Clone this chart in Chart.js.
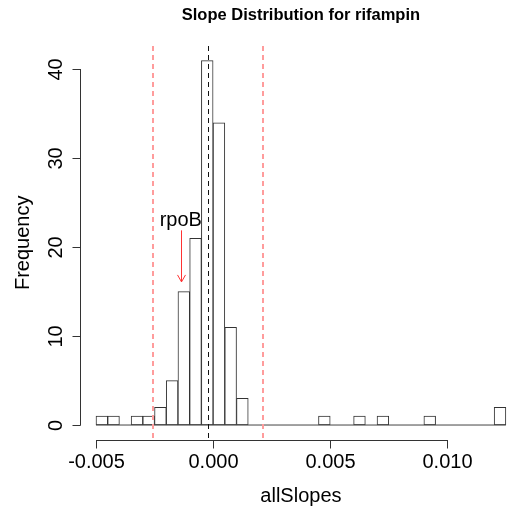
<!DOCTYPE html>
<html>
<head>
<meta charset="utf-8">
<script src="https://cdn.jsdelivr.net/npm/chart.js@4"></script>
<style>
html,body{margin:0;padding:0;background:#fff;overflow:hidden;}
canvas{display:block;}
</style>
</head>
<body>
<canvas id="c" width="509" height="513"></canvas>
<script>
// Histogram bin edges (allSlopes)
const binEdges = [-0.005,-0.0045,-0.004,-0.0035,-0.003,-0.0025,-0.002,-0.0015,-0.001,-0.0005,
  0,0.0005,0.001,0.0015,0.002,0.0025,0.003,0.0035,0.004,0.0045,
  0.005,0.0055,0.006,0.0065,0.007,0.0075,0.008,0.0085,0.009,0.0095,
  0.01,0.0105,0.011,0.0115,0.012,0.0125];
// Frequency per bin
const counts = [1,1,0,1,1,2,5,15,21,41,
  34,11,3,0,0,0,0,0,0,1,
  0,0,1,0,1,0,0,0,1,0,
  0,0,0,0,2];
// Tick labels
const xTicks = [-0.005,0,0.005,0.010];
const xTickLabels = ["-0.005","0.000","0.005","0.010"];
const yTicks = [0,10,20,30,40];
const yTickLabels = ["0","10","20","30","40"];
// Reference lines
const centerLine = -0.000205;
const cutoffLines = [-0.00258,0.00214];
// Annotation
const annotationLabel = "rpoB";
const annotationX = -0.00138;
const annotationTextY = 23.0;
const arrowFromY = 21.9;
const arrowToY = 16.1;
// Axis extents (R-style 4% extension)
const xLimits = [-0.0057,0.0132];
const title = "Slope Distribution for rifampin";
const xLabel = "allSlopes";
const yLabel = "Frequency";

const barData = counts.map((c,i)=>({x:(binEdges[i]+binEdges[i+1])/2, y:c}));
const baseData = [{x:binEdges[0],y:0},{x:binEdges[binEdges.length-1],y:0}];

const FONT = '"Liberation Sans", Arial, Helvetica, sans-serif';

const rPlot = {
  id:'rPlot',
  afterDatasetsDraw(chart){
    const ctx = chart.ctx, xs = chart.scales.x, ys = chart.scales.y, ca = chart.chartArea;
    ctx.save();
    // reference lines
    ctx.lineWidth = 2;
    ctx.setLineDash([5,4]);
    ctx.strokeStyle = '#ff9c9c';
    cutoffLines.forEach(v=>{
      const px = Math.round(xs.getPixelForValue(v));
      ctx.beginPath(); ctx.moveTo(px,ca.top); ctx.lineTo(px,ca.bottom); ctx.stroke();
    });
    ctx.strokeStyle = '#111';
    ctx.lineWidth = 1;
    {
      const px = Math.round(xs.getPixelForValue(centerLine))+0.5;
      ctx.beginPath(); ctx.moveTo(px,ca.top); ctx.lineTo(px,ca.bottom); ctx.stroke();
    }
    ctx.setLineDash([]);

    // annotation arrow
    const ax = Math.round(xs.getPixelForValue(annotationX))+0.5;
    const y0 = ys.getPixelForValue(arrowFromY), y1 = ys.getPixelForValue(arrowToY);
    ctx.strokeStyle = '#ff3333';
    ctx.lineWidth = 1;
    ctx.beginPath(); ctx.moveTo(ax,y0); ctx.lineTo(ax,y1); ctx.stroke();
    ctx.beginPath(); ctx.moveTo(ax-4,y1-7); ctx.lineTo(ax,y1); ctx.lineTo(ax+4,y1-7); ctx.stroke();
    ctx.fillStyle = '#000';
    ctx.font = '20px ' + FONT;
    ctx.textAlign = 'center'; ctx.textBaseline = 'middle';
    ctx.fillText(annotationLabel, xs.getPixelForValue(annotationX), ys.getPixelForValue(annotationTextY));

    // axes
    ctx.strokeStyle = '#333';
    ctx.lineWidth = 1;
    const axY = Math.round(ca.bottom)+0.5;
    const xa = Math.round(xs.getPixelForValue(xTicks[0])), xb = Math.round(xs.getPixelForValue(xTicks[xTicks.length-1]));
    ctx.beginPath(); ctx.moveTo(xa,axY); ctx.lineTo(xb+1,axY); ctx.stroke();
    ctx.font = '20px ' + FONT;
    ctx.textAlign = 'center'; ctx.textBaseline = 'alphabetic';
    xTicks.forEach((v,i)=>{
      const px = Math.round(xs.getPixelForValue(v))+0.5;
      ctx.beginPath(); ctx.moveTo(px,axY); ctx.lineTo(px,axY+8); ctx.stroke();
      ctx.fillText(xTickLabels[i], px, 468);
    });
    const axX = Math.round(ca.left)+0.5;
    const ya = Math.round(ys.getPixelForValue(yTicks[0])), yb = Math.round(ys.getPixelForValue(yTicks[yTicks.length-1]));
    ctx.beginPath(); ctx.moveTo(axX,ya+0.5); ctx.lineTo(axX,yb); ctx.stroke();
    yTicks.forEach((v,i)=>{
      const py = Math.round(ys.getPixelForValue(v))+0.5;
      ctx.beginPath(); ctx.moveTo(axX,py); ctx.lineTo(axX-8,py); ctx.stroke();
      ctx.save(); ctx.translate(61.5,py); ctx.rotate(-Math.PI/2);
      ctx.fillText(yTickLabels[i],0,0); ctx.restore();
    });

    // titles
    const midX = (xs.getPixelForValue(xLimits[0]) + xs.getPixelForValue(xLimits[1]))/2;
    ctx.fillText(xLabel, midX, 502);
    const midY = (ys.getPixelForValue(ys.min)+ys.getPixelForValue(ys.max))/2;
    ctx.save(); ctx.translate(28.5, midY); ctx.rotate(-Math.PI/2);
    ctx.fillText(yLabel,0,0); ctx.restore();
    ctx.font = 'bold 16.5px ' + FONT;
    ctx.fillText(title, midX, 20);
    ctx.restore();
  }
};

new Chart(document.getElementById('c'), {
  type:'bar',
  data:{
    datasets:[
      {type:'bar', data:barData, backgroundColor:'#fff', borderColor:'#333', borderWidth:1,
       borderSkipped:false, barPercentage:1, categoryPercentage:1, order:2},
      {type:'line', data:baseData, borderColor:'#444', borderWidth:1, pointRadius:0, order:1}
    ]
  },
  options:{
    responsive:false,
    devicePixelRatio:1,
    animation:false,
    events:[],
    layout:{padding:{left:80,right:0,top:46,bottom:73.4}},
    plugins:{legend:{display:false},title:{display:false},tooltip:{enabled:false}},
    scales:{
      x:{type:'linear', display:false, min:-0.005683, max:0.012634, offset:false},
      y:{type:'linear', display:false, min:-1.64, max:42.64}
    }
  },
  plugins:[rPlot]
});
</script>
</body>
</html>
